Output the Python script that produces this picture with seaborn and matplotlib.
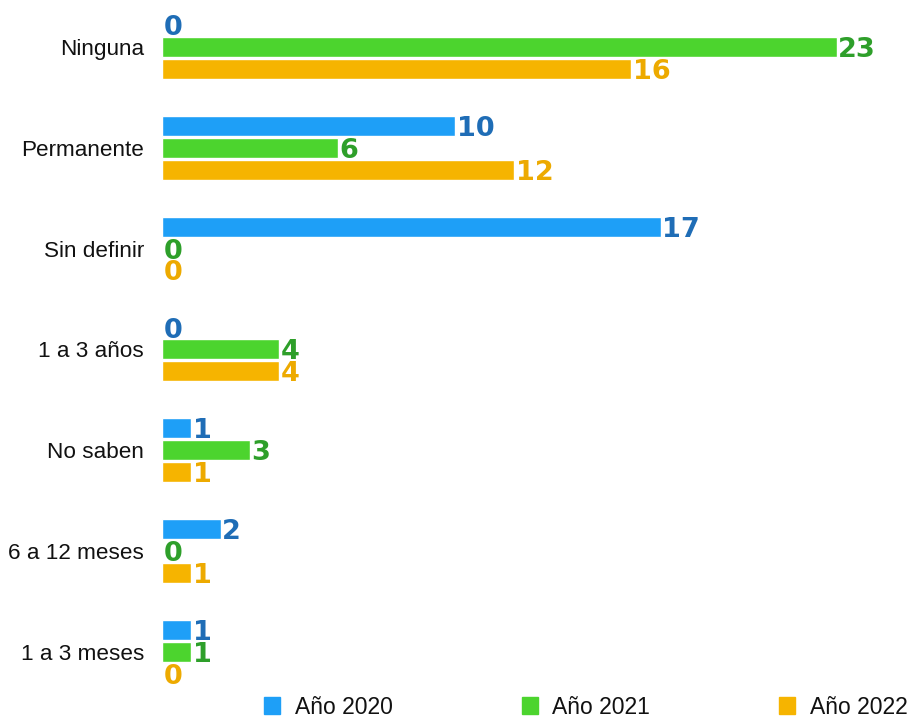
import matplotlib
matplotlib.use("Agg")
import matplotlib.pyplot as plt
import pandas as pd
import seaborn as sns

categorias = ["Ninguna", "Permanente", "Sin definir", "1 a 3 años",
              "No saben", "6 a 12 meses", "1 a 3 meses"]
anio_2020 = [0, 10, 17, 0, 1, 2, 1]
anio_2021 = [23, 6, 0, 4, 3, 0, 1]
anio_2022 = [16, 12, 0, 4, 1, 1, 0]
series = ["Año 2020", "Año 2021", "Año 2022"]

colores_barra = ["#1E9FF7", "#4CD42E", "#F6B400"]
colores_texto = ["#1F6DB6", "#2E9F2A", "#EDAA00"]

valores = [anio_2020, anio_2021, anio_2022]
df = pd.DataFrame({
    "categoria": categorias * 3,
    "valor": anio_2020 + anio_2021 + anio_2022,
    "serie": [s for s in series for _ in categorias],
})

sns.set_theme(style="white")
plt.rcParams["font.family"] = ["Liberation Sans", "DejaVu Sans"]

fig = plt.figure(figsize=(9.14, 7.18), dpi=100)
ax = fig.add_axes([162 / 914, 26 / 718, 745 / 914, 687 / 718])

sns.barplot(data=df, y="categoria", x="valor", hue="serie", orient="h",
            order=categorias, hue_order=series, palette=colores_barra,
            width=0.65, gap=0.08, saturation=1, legend=False, ax=ax)

ax.set_xlim(0, 25.4)
ax.set_ylim(6.4, -0.417)
ax.set_xlabel("")
ax.set_ylabel("")
ax.set_xticks([])
ax.tick_params(axis="y", length=0, pad=13, labelsize=16.2, labelcolor="#111111")
for s in ax.spines.values():
    s.set_visible(False)

# value labels at the end of each bar, digits centred on the bar
for cont, col, vals in zip(ax.containers, colores_texto, valores):
    for barra, v in zip(cont.patches, vals):
        yc = barra.get_y() + barra.get_height() / 2
        ax.annotate(f"{v}", xy=(barra.get_width(), yc), xytext=(1.2, -7.2),
                    textcoords="offset points", va="baseline", ha="left",
                    color=col, fontsize=19.5, fontweight="bold",
                    family="DejaVu Sans")

handles = [plt.Rectangle((0, 0), 1, 1, color=c) for c in colores_barra]
fig.legend(handles, series, loc="center", bbox_to_anchor=(0.641, 11 / 718),
           ncol=3, frameon=False, fontsize=16.5, handlelength=0.7,
           handleheight=0.7, handletextpad=0.65, columnspacing=5.6,
           labelcolor="#111111")

fig.savefig("out.png", dpi=100)
